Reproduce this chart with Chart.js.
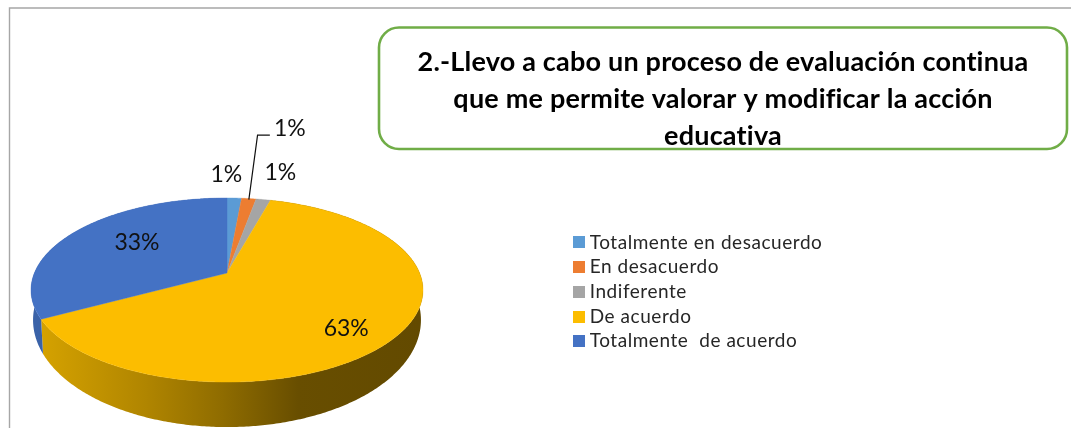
<!DOCTYPE html>
<html lang="es">
<head>
<meta charset="utf-8">
<title>Evaluación continua</title>
<script src="https://cdn.jsdelivr.net/npm/chart.js@4"></script>
<style>html,body{margin:0;padding:0;background:#fff}canvas{display:block}</style>
</head>
<body>
<canvas id="c" width="1071" height="428"></canvas>
<script>
// ---- data ----
const categories = ['Totalmente en desacuerdo', 'En desacuerdo', 'Indiferente', 'De acuerdo', 'Totalmente  de acuerdo'];
const responses = [1, 1, 1, 44, 23];
const sliceColors = ['#5B9BD5', '#ED7D31', '#A5A5A5', '#FCBD00', '#4472C4'];
const titleLines = ['2.-Llevo a cabo un proceso de evaluación continua', 'que me permite valorar y modificar la acción', 'educativa'];

// ---- layout / style of the tilted pie ----
const TOP = {x: 227, y: 273, a: 192.6, b: 88.9};     // apex and projective radii of the top face
const BASE = {x: 227, y: 300.2, a: 190.6, b: 103.4}; // same for the lower rim
const K = -0.185;                                    // perspective factor
const labelOffset = [[-8, -23.5], [41, -70], [17, -27], [-51, -7.5], [61, 11.5]]; // from slice's rim midpoint
const LABEL_FONT = '23px Lato';

function project(p, phi) {
  const u = Math.sin(phi), v = -Math.cos(phi), w = 1 + K * v;
  return [p.x + p.a * u / w, p.y + p.b * v / w];
}
function phiRange(arc) {
  return [arc.startAngle + Math.PI / 2, arc.endAngle + Math.PI / 2];
}
function rimPath(ctx, p, s, e, first) {
  const n = Math.max(4, Math.ceil(Math.abs(e - s) / 0.01));
  for (let i = 0; i <= n; i++) {
    const pt = project(p, s + (e - s) * i / n);
    if (i === 0 && first) ctx.moveTo(pt[0], pt[1]); else ctx.lineTo(pt[0], pt[1]);
  }
}
function withSpacing(box, ctx, spacing) {
  if (box.__spaced) return;
  box.__spaced = true;
  const draw = box.draw.bind(box);
  box.draw = function (...args) {
    const prev = ctx.letterSpacing;
    ctx.letterSpacing = spacing;
    draw(...args);
    ctx.letterSpacing = prev;
  };
}

const pie3d = {
  id: 'pie3d',
  beforeDraw(chart) {
    const ctx = chart.ctx;
    ctx.save();
    // frame
    ctx.strokeStyle = '#A6A6A6'; ctx.lineWidth = 1.4;
    ctx.beginPath(); ctx.moveTo(9.5, 428); ctx.lineTo(9.5, 8); ctx.lineTo(1071, 8); ctx.stroke();
    // title box
    ctx.strokeStyle = '#70AD47'; ctx.lineWidth = 2.6; ctx.fillStyle = '#fff';
    ctx.beginPath(); ctx.roundRect(379, 27.5, 688, 121.5, 20); ctx.fill(); ctx.stroke();
    ctx.restore();
  },
  afterLayout(chart) {
    const t = chart.titleBlock;
    t.left = 379; t.right = 1067; t.top = 44; t.bottom = 151;
    const l = chart.legend;
    const h = l.bottom - l.top;
    l.left = 571.5; l.right = l.left + 290; l.top = 227.2; l.bottom = l.top + h;
    withSpacing(t, chart.ctx, '0.2px');
    withSpacing(l, chart.ctx, '0.55px');
  },
  beforeDatasetDraw() { return false; },
  beforeDatasetsDraw(chart) {
    const ctx = chart.ctx, arcs = chart.getDatasetMeta(0).data;
    ctx.save();
    // side walls
    const g = ctx.createLinearGradient(40, 0, 420, 0);
    g.addColorStop(0, '#D5A200'); g.addColorStop(0.28, '#B08500');
    g.addColorStop(0.48, '#8F6C00'); g.addColorStop(0.68, '#684E00'); g.addColorStop(1, '#634A00');
    [[3, g], [4, '#3A62A8']].forEach(([i, fill]) => {
      const [s, e] = phiRange(arcs[i]);
      ctx.beginPath();
      rimPath(ctx, TOP, s, e, true);
      rimPath(ctx, BASE, e, s, false);
      ctx.closePath();
      ctx.fillStyle = fill; ctx.fill();
    });
    // top face
    arcs.forEach((arc, i) => {
      const [s, e] = phiRange(arc);
      ctx.beginPath();
      ctx.moveTo(TOP.x, TOP.y);
      rimPath(ctx, TOP, s, e, false);
      ctx.closePath();
      ctx.fillStyle = sliceColors[i]; ctx.fill();
      ctx.strokeStyle = sliceColors[i]; ctx.lineWidth = 0.4; ctx.stroke();
    });
    ctx.restore();
  },
  afterDatasetsDraw(chart) {
    const ctx = chart.ctx, arcs = chart.getDatasetMeta(0).data;
    const total = responses.reduce((a, b) => a + b, 0);
    ctx.save();
    // leader line of the second slice
    const [s1, e1] = phiRange(arcs[1]);
    const r = project(TOP, (s1 + e1) / 2);
    ctx.strokeStyle = '#111'; ctx.lineWidth = 1.2;
    ctx.beginPath(); ctx.moveTo(r[0], r[1] + 1); ctx.lineTo(r[0] + 8.7, r[1] - 63.5); ctx.lineTo(r[0] + 21, r[1] - 63.5); ctx.stroke();
    ctx.font = LABEL_FONT; ctx.fillStyle = '#111'; ctx.textAlign = 'center'; ctx.textBaseline = 'middle';
    arcs.forEach((arc, i) => {
      const [s, e] = phiRange(arc);
      const m = project(TOP, (s + e) / 2);
      const txt = Math.round(responses[i] / total * 100) + '%';
      ctx.fillText(txt, m[0] + labelOffset[i][0], m[1] + labelOffset[i][1]);
    });
    ctx.restore();
  }
};

function swatch(color) {
  const c = document.createElement('canvas');
  c.width = 12; c.height = 12;
  const x = c.getContext('2d'); x.fillStyle = color; x.fillRect(0, 0, 12, 12);
  return c;
}

new Chart(document.getElementById('c'), {
  type: 'pie',
  data: {
    labels: categories,
    datasets: [{ data: responses, backgroundColor: sliceColors, borderWidth: 0 }]
  },
  options: {
    responsive: false,
    animation: false,
    plugins: {
      tooltip: { enabled: false },
      title: {
        display: true, text: titleLines, color: '#000', align: 'center',
        font: { family: 'Lato', weight: 'bold', size: 27, lineHeight: 1.37 }, padding: 0
      },
      legend: {
        display: true, position: 'right', align: 'start',
        labels: {
          usePointStyle: true, pointStyleWidth: 3, boxHeight: 19, padding: 5.7,
          color: '#262626', font: { family: 'Lato', size: 19 },
          generateLabels(chart) {
            return categories.map((t, i) => ({ text: t, pointStyle: swatch(sliceColors[i]), fontColor: '#262626', lineWidth: 0, hidden: false, index: i }));
          }
        }
      }
    }
  },
  plugins: [pie3d]
});
</script>
</body>
</html>
